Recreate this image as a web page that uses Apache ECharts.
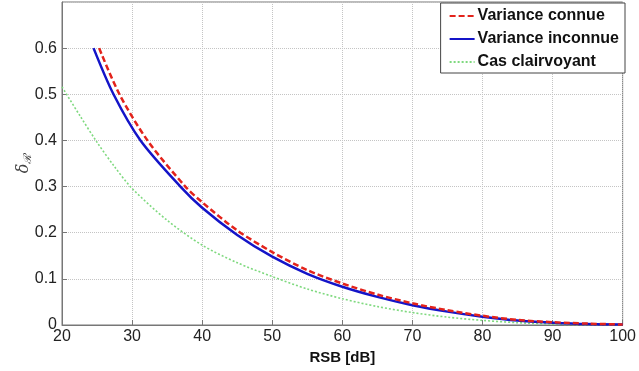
<!DOCTYPE html>
<html><head><meta charset="utf-8">
<script src="https://cdn.jsdelivr.net/npm/echarts@6/dist/echarts.min.js"></script>
<style>html,body{margin:0;padding:0;background:#fff}#c{width:639px;height:371px}</style>
</head><body><div id="c"></div>
<script>
const xTicks = [20, 30, 40, 50, 60, 70, 80, 90, 100];
const knownX = [25.3, 28.2, 32.2, 37.6, 40, 45, 50, 55, 60, 65, 70, 75, 80, 85, 90, 95, 100];
const knownY = [0.6, 0.5, 0.4, 0.3, 0.266, 0.205, 0.158, 0.119, 0.09, 0.066, 0.047, 0.032, 0.02, 0.011, 0.006, 0.003, 0.001];
const unknownX = [24.5, 27.35, 31.2, 36.9, 40, 45, 50, 55, 60, 65, 70, 75, 80, 85, 90, 95, 100];
const unknownY = [0.6, 0.5, 0.4, 0.3, 0.254, 0.195, 0.148, 0.111, 0.083, 0.061, 0.043, 0.029, 0.018, 0.0095, 0.005, 0.002, 0.001];
const clairX = [20, 22.5, 25, 27.5, 30, 35, 40, 45, 50, 55, 60, 65, 70, 75, 80, 85, 90, 95, 100];
const clairY = [0.516, 0.455, 0.396, 0.343, 0.296, 0.227, 0.173, 0.135, 0.105, 0.078, 0.057, 0.04, 0.027, 0.017, 0.01, 0.005, 0.002, 0.0005, 0.0];
const names = ['Variance connue', 'Variance inconnue', 'Cas clairvoyant'];
const pairs = (xs, ys) => xs.map((x, i) => [x, ys[i]]);
const chart = echarts.init(document.getElementById('c'));
chart.setOption({
  animation: false,
  textStyle: { fontFamily: 'Liberation Sans, Arial, sans-serif' },
  grid: { left: 62, right: 12, top: 2, bottom: 46, show: true, borderColor: '#777', borderWidth: 1 },
  legend: {
    orient: 'vertical', right: 14, top: 3, itemWidth: 25, itemHeight: 14, itemGap: 7,
    padding: [5, 6, 3, 8], borderColor: '#444', borderWidth: 1, backgroundColor: '#fff',
    itemStyle: { opacity: 0 },
    textStyle: { fontSize: 16, fontWeight: 'bold', color: '#111', padding: [0, 0, 0, -2] },
    data: names
  },
  xAxis: {
    type: 'value', min: 20, max: 100, interval: 10,
    name: 'RSB [dB]', nameLocation: 'middle', nameGap: 21,
    nameTextStyle: { fontSize: 15, fontWeight: 'bold', color: '#111' },
    axisLine: { show: true, lineStyle: { color: '#777' } },
    axisTick: { show: true, inside: true, length: 5, lineStyle: { color: '#777' } },
    axisLabel: { fontSize: 16, color: '#222', margin: 4 },
    splitLine: { show: true, lineStyle: { color: '#c4c4c4', type: 'dotted' } }
  },
  yAxis: {
    type: 'value', min: 0, max: 0.7, interval: 0.1,
    name: '{d|δ}{r|ℛ}', nameLocation: 'middle', nameGap: 29, nameRotate: 90, nameMoveOverlap: false,
    nameTextStyle: { rich: { d: { fontSize: 16, fontStyle: 'italic', color: '#444', fontFamily: 'DejaVu Serif' }, r: { fontSize: 11, fontStyle: 'italic', color: '#444', padding: [8, 0, 0, 0] } } },
    axisLine: { show: true, lineStyle: { color: '#777' } },
    axisTick: { show: true, inside: true, length: 5, lineStyle: { color: '#777' } },
    axisLabel: { fontSize: 16, color: '#222', margin: 5, showMaxLabel: false },
    splitLine: { show: true, lineStyle: { color: '#c4c4c4', type: 'dotted' } }
  },
  series: [
    { name: names[0], type: 'line', smooth: 0.3, symbol: 'none', data: pairs(knownX, knownY), z: 3,
      lineStyle: { color: '#e3231b', width: 2.5, type: [6, 3] }, itemStyle: { color: '#e3231b' } },
    { name: names[1], type: 'line', smooth: 0.3, symbol: 'none', data: pairs(unknownX, unknownY), z: 2,
      lineStyle: { color: '#1414c8', width: 2.5 }, itemStyle: { color: '#1414c8' } },
    { name: names[2], type: 'line', smooth: 0.3, symbol: 'none', data: pairs(clairX, clairY), z: 1,
      lineStyle: { color: '#7fd97f', width: 1.6, type: [2, 2] }, itemStyle: { color: '#7fd97f' } }
  ]
});
</script></body></html>
